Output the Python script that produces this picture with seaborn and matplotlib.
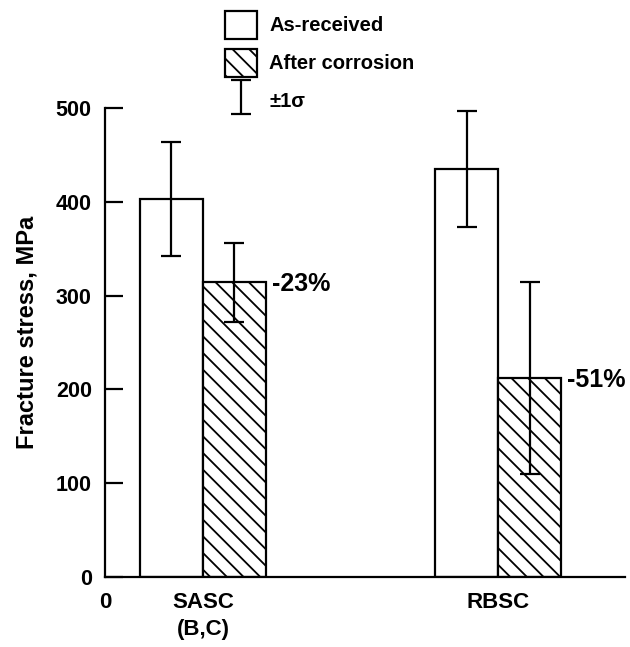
import numpy as np
import pandas as pd
import matplotlib
matplotlib.use("Agg")
import matplotlib.pyplot as plt
from matplotlib.patches import Patch
from matplotlib.container import ErrorbarContainer
from matplotlib.legend_handler import HandlerErrorbar
import seaborn as sns

# ---- data ----
materials = ["SASC\n(B,C)", "RBSC"]
conditions = ["As-received", "After corrosion"]
as_received = [403, 435]
after_corrosion = [314, 212]
sd_as_received = [61, 62]
sd_after_corrosion = [42, 102]
pct_change = ["-23%", "-51%"]
yticks = [0, 100, 200, 300, 400, 500]
ylabel = "Fracture stress, MPa"
sigma_label = "\u00b11\u03c3"

df = pd.DataFrame({
    "material": materials * 2,
    "condition": [conditions[0]] * 2 + [conditions[1]] * 2,
    "stress": as_received + after_corrosion,
})

sns.set_theme(style="ticks")
plt.rcParams["font.family"] = ["Liberation Sans", "DejaVu Sans"]
plt.rcParams["font.weight"] = "bold"
plt.rcParams["hatch.linewidth"] = 1.3
plt.rcParams["hatch.color"] = "black"
for key in ["text.color", "axes.labelcolor", "xtick.color", "ytick.color",
            "axes.edgecolor"]:
    plt.rcParams[key] = "black"

fig = plt.figure(figsize=(6.3, 6.47), dpi=100)
ax = fig.add_axes([105 / 630, 70 / 647, 520 / 630, 469 / 647])

sns.barplot(data=df, x="material", y="stress", hue="condition",
            order=materials, hue_order=conditions,
            palette=["white", "white"], edgecolor="black", linewidth=1.6,
            width=0.427, errorbar=None, legend=False, saturation=1, ax=ax)

for bar in ax.containers[1]:
    bar.set_hatch("\\\\")

sds = [sd_as_received, sd_after_corrosion]
eb_handle = None
for cont, sd in zip(ax.containers[:2], sds):
    xs = [p.get_x() + p.get_width() / 2 for p in cont]
    ys = [p.get_height() for p in cont]
    eb = ax.errorbar(xs, ys, yerr=sd, fmt="none", ecolor="black",
                     elinewidth=1.6, capsize=7.5, capthick=1.6, zorder=3)
    if eb_handle is None:
        eb_handle = eb

for p, txt in zip(ax.containers[1], pct_change):
    ax.annotate(txt, xy=(p.get_x() + p.get_width(), p.get_height()),
                xytext=(4, -1), textcoords="offset points",
                ha="left", va="center", fontsize=18, fontweight="bold")

xleft, xright = -0.332, 1.43
ax.set_xlim(xleft, xright)
ax.set_ylim(0, 500)
ax.set_yticks(yticks)
ax.set_xticks([xleft, 0, 1], ["0"] + materials)
ax.tick_params(axis="x", length=0, pad=11, labelsize=16)
ax.tick_params(axis="y", direction="in", length=13, width=1.6, pad=9.5,
               labelsize=15.5)
for lab in ax.get_xticklabels():
    lab.set_fontweight("bold")
    lab.set_linespacing(1.35)
for lab in ax.get_yticklabels():
    lab.set_fontweight("bold")
ax.set_xlabel("")
ax.set_ylabel(ylabel, fontsize=17, fontweight="bold")
ax.yaxis.set_label_coords(-0.127, 0.522)
sns.despine(ax=ax)
for s in ["left", "bottom"]:
    ax.spines[s].set_linewidth(1.6)
    ax.spines[s].set_color("black")

handles = [
    Patch(facecolor="white", edgecolor="black", linewidth=1.6),
    Patch(facecolor="white", edgecolor="black", linewidth=1.6, hatch="\\\\"),
    eb_handle,
]
fig.legend(handles, conditions + [sigma_label], loc="upper left",
           bbox_to_anchor=(225 / 630, 1 - 11 / 647), frameon=False,
           borderpad=0, borderaxespad=0, handlelength=1.6, handleheight=1.75,
           labelspacing=0.5, handletextpad=0.6, numpoints=1,
           prop={"size": 14.5, "weight": "bold"},
           handler_map={ErrorbarContainer: HandlerErrorbar(yerr_size=0.85)})

fig.savefig("out.png", dpi=100, facecolor="white")
